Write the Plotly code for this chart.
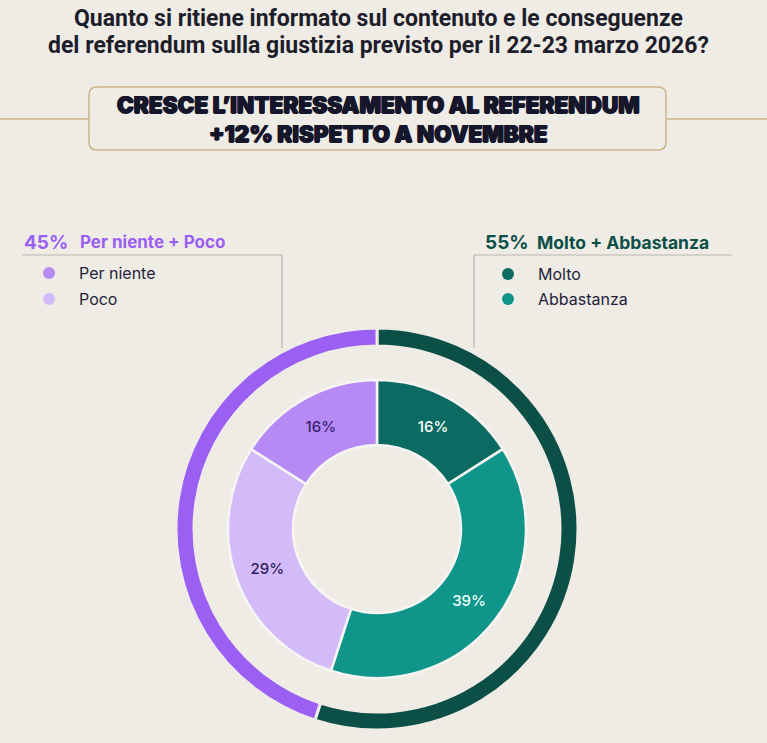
import plotly.graph_objects as go

# ---- data ----
inner_labels = ["Molto", "Abbastanza", "Poco", "Per niente"]
inner_values = [16, 39, 29, 16]
outer_labels = ["Molto + Abbastanza", "Per niente + Poco"]
outer_values = [55, 45]
title_lines = ["Quanto si ritiene informato sul contenuto e le conseguenze",
               "del referendum sulla giustizia previsto per il 22-23 marzo 2026?"]
box_lines = ["CRESCE L\u2019INTERESSAMENTO AL REFERENDUM", "+12% RISPETTO A NOVEMBRE"]

# ---- style ----
W, H = 767, 743
BG = "#EFECE6"
C_MOLTO = "#0B6B62"
C_ABB = "#0F958A"
C_POCO = "#D3BAF9"
C_PERN = "#B68AF4"
C_OUT_GREEN = "#0B4F47"
C_OUT_PURPLE = "#9C5FF4"
GOLD = "#CDB48A"
GREY = "#B9B5AF"
DARK = "#23233A"
HEAD = "#16162A"

cx, cy = 377, 529
r_out, r_in = 201, 149


def dom(r):
    return dict(x=[(cx - r) / W, (cx + r) / W], y=[(H - cy - r) / H, (H - cy + r) / H])


fig = go.Figure()
# dummy trace so pixel axes exist
fig.add_trace(go.Scatter(x=[], y=[], showlegend=False, hoverinfo="skip"))

fig.add_trace(go.Pie(
    labels=outer_labels, values=outer_values, hole=183 / 201, sort=False,
    direction="clockwise", rotation=0, domain=dom(r_out),
    marker=dict(colors=[C_OUT_GREEN, C_OUT_PURPLE], line=dict(color=BG, width=3)),
    textinfo="none", hoverinfo="skip", showlegend=False))

fig.add_trace(go.Pie(
    labels=inner_labels, values=inner_values, hole=84 / 149, sort=False,
    direction="clockwise", rotation=0, domain=dom(r_in),
    marker=dict(colors=[C_MOLTO, C_ABB, C_POCO, C_PERN], line=dict(color="#F7F5F1", width=2.5)),
    texttemplate="%{value}%", textposition="inside", insidetextorientation="horizontal",
    textfont=dict(family="Inter, Open Sans, sans-serif", size=15, weight=500,
                  color=["#FFFFFF", "#F2FFFD", "#2E1E5C", "#3A2270"]),
    hoverinfo="skip", showlegend=False))

shapes = [
    # gold horizontal lines
    dict(type="line", x0=0, x1=89, y0=119, y1=119, line=dict(color=GOLD, width=1.5)),
    dict(type="line", x0=666, x1=767, y0=119, y1=119, line=dict(color=GOLD, width=1.5)),
    # rounded box
    dict(type="path",
         path="M 97 87 L 658 87 Q 666 87 666 95 L 666 142 Q 666 150 658 150 L 97 150 Q 89 150 89 142 L 89 95 Q 89 87 97 87 Z",
         line=dict(color=GOLD, width=1.5), fillcolor=BG),
    # legend connectors
    dict(type="line", x0=22, x1=282, y0=255, y1=255, line=dict(color=GREY, width=1.2)),
    dict(type="line", x0=282, x1=282, y0=255, y1=348, line=dict(color=GREY, width=1.2)),
    dict(type="line", x0=474, x1=732, y0=255, y1=255, line=dict(color=GREY, width=1.2)),
    dict(type="line", x0=474, x1=474, y0=255, y1=348, line=dict(color=GREY, width=1.2)),
]
# legend dots
for (x, y, c) in [(49, 273, C_PERN), (49, 299, C_POCO), (508, 274, C_MOLTO), (508, 299, C_ABB)]:
    shapes.append(dict(type="circle", x0=x - 6, x1=x + 6, y0=y - 6, y1=y + 6,
                       line=dict(width=0), fillcolor=c))

ann = []
TF = "Roboto, sans-serif"
for i, t in enumerate(title_lines):
    ann.append(dict(x=378, y=18 + i * 27, text=t, showarrow=False, xanchor="center", yanchor="middle",
                    font=dict(family=TF, size=23, color="#1E1E2A", weight="bold")))
ann.append(dict(x=378, y=119, text="<br>".join(box_lines), showarrow=False,
                xanchor="center", yanchor="middle", align="center",
                font=dict(family="Inter, Roboto, sans-serif", size=22.5, color=HEAD, weight=900,
                          shadow=f"0.7px 0 0 {HEAD}, -0.7px 0 0 {HEAD}, 0 0.5px 0 {HEAD}")))

LF = "Inter, Lato, sans-serif"
ann += [
    dict(x=22, y=242, text=f"<b>{outer_values[1]}%</b>", font=dict(family=LF, size=19, color=C_OUT_PURPLE)),
    dict(x=78, y=242, text=f"<b>{outer_labels[1]}</b>", font=dict(family=LF, size=17, color=C_OUT_PURPLE)),
    dict(x=483, y=242, text=f"<b>{outer_values[0]}%</b>", font=dict(family=LF, size=19, color=C_OUT_GREEN)),
    dict(x=535, y=242, text=f"<b>{outer_labels[0]}</b>", font=dict(family=LF, size=17.5, color=C_OUT_GREEN)),
    dict(x=77, y=273, text=inner_labels[3], font=dict(family=LF, size=16, color=DARK)),
    dict(x=77, y=299, text=inner_labels[2], font=dict(family=LF, size=16, color=DARK)),
    dict(x=536, y=274, text=inner_labels[0], font=dict(family=LF, size=16, color=DARK)),
    dict(x=536, y=299, text=inner_labels[1], font=dict(family=LF, size=16, color=DARK)),
]
for a in ann[3:]:
    a.update(showarrow=False, xanchor="left", yanchor="middle")
for a in ann:
    a.update(xref="x", yref="y")

fig.update_layout(
    width=W, height=H, margin=dict(l=0, r=0, t=0, b=0),
    paper_bgcolor=BG, plot_bgcolor=BG,
    xaxis=dict(range=[0, W], visible=False, fixedrange=True, domain=[0, 1]),
    yaxis=dict(range=[H, 0], visible=False, fixedrange=True, domain=[0, 1]),
    shapes=shapes, annotations=ann, showlegend=False,
)
fig.write_html("out.html", config={"displayModeBar": False},
               post_script=f"document.body.style.margin='0';document.body.style.background='{BG}';"
                           "document.body.style.overflow='hidden';")
